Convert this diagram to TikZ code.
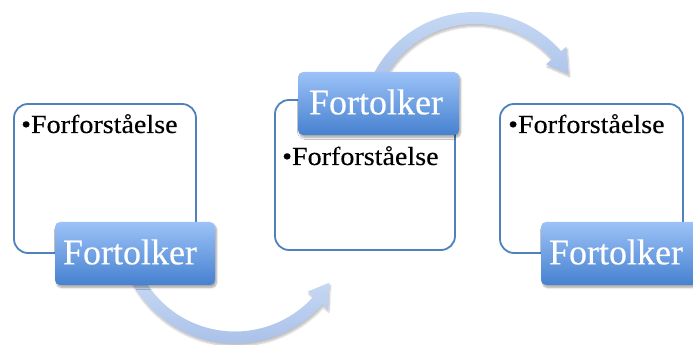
\documentclass[tikz,border=0pt]{standalone}
\usepackage{fontspec}
\setmainfont[FakeBold=0.3]{Liberation Serif}
\newfontfamily\itemfont[FakeStretch=1.08,FakeBold=0.3]{Liberation Serif}
\usetikzlibrary{calc,shadows.blur}
\definecolor{boxline}{HTML}{4F81BD}
\definecolor{labtop}{HTML}{9CC2F7}
\definecolor{labbot}{HTML}{4681D0}
\definecolor{arrtop}{HTML}{CADCF6}
\definecolor{arrbot}{HTML}{A9C0E8}
\tikzset{
  stagebox/.style={draw=boxline, line width=1.8pt, rounded corners=14pt, fill=white},
  stagelabel/.style={rounded corners=5pt, top color=labtop, bottom color=labbot,
    blur shadow={shadow xshift=1.5pt, shadow yshift=-2.5pt, shadow opacity=35, shadow blur steps=6}},
  labeltext/.style={text=white, font=\fontsize{36}{38}\selectfont, inner sep=0pt},
  itemtext/.style={text=black, font=\itemfont\fontsize{26}{28}\selectfont, inner sep=0pt, anchor=base west},
  flowarrow/.style={top color=arrtop, bottom color=arrbot,
    blur shadow={shadow xshift=1pt, shadow yshift=-2.5pt, shadow opacity=25, shadow blur steps=6}}
}
\begin{document}
\begin{tikzpicture}[x=1pt,y=1pt]
\useasboundingbox (0,0) rectangle (693,345);

% curved arrow under the first stage (counterclockwise)
\coordinate (c1) at (235,119);
\shade[flowarrow]
  ($(c1)+(205:117.5)$) arc[start angle=205, end angle=318, radius=117.5]
  -- ($(c1)+(318:125)$) -- ($(c1)+(329:110)$) -- ($(c1)+(318:98)$)
  -- ($(c1)+(318:105.5)$) arc[start angle=318, end angle=205, radius=105.5] -- cycle;

% curved arrow over the second stage (clockwise)
\coordinate (c2) at (475,219);
\shade[flowarrow]
  ($(c2)+(160:114)$) arc[start angle=160, end angle=41, radius=114]
  -- ($(c2)+(41:121)$) -- ($(c2)+(29:107)$) -- ($(c2)+(41:94)$)
  -- ($(c2)+(41:102)$) arc[start angle=41, end angle=160, radius=102] -- cycle;

% stage boxes
\draw[stagebox] (14,92) rectangle (196,241);
\draw[stagebox] (275,95) rectangle (455,245);
\draw[stagebox] (500,92) rectangle (683,241);

\node[itemtext] (t1) at (21,212) {•Forforståelse};
\node[itemtext] (t2) at (282,180) {•Forforståelse};
\node[itemtext] (t3) at (508,212) {•Forforståelse};

% stage labels
\path[stagelabel] (55,60) rectangle (215,123);
\node[labeltext] (l1) at (130,93) {Fortolker};
\path[stagelabel] (298,210) rectangle (459,273);
\node[labeltext] (l2) at (376,243) {Fortolker};
\path[stagelabel] (541,60) rectangle (701,123);
\node[labeltext] (l3) at (616,93) {Fortolker};
\end{tikzpicture}
\end{document}
